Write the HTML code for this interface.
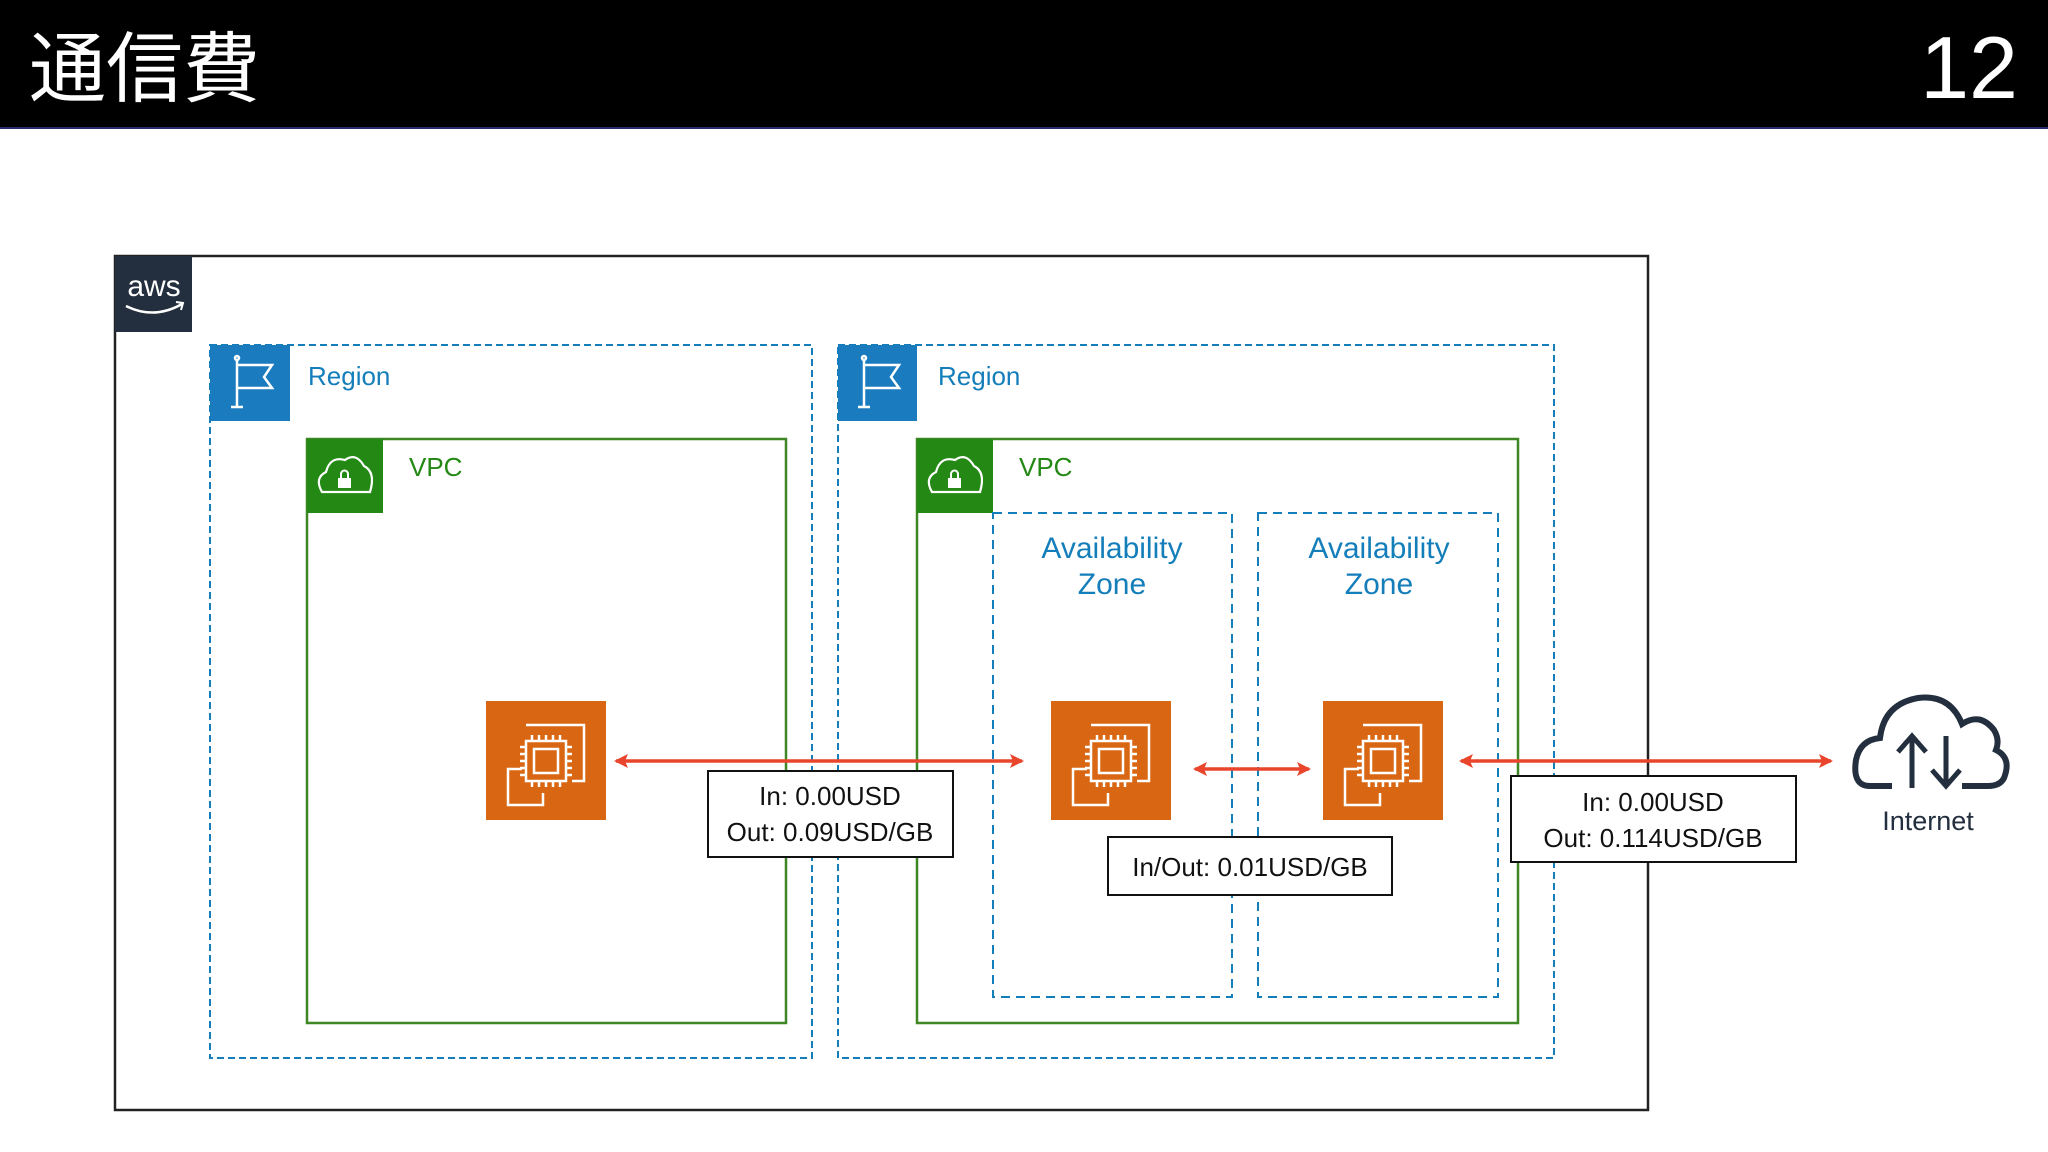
<!DOCTYPE html>
<html><head><meta charset="utf-8"><style>
html,body{margin:0;padding:0;background:#fff;}
body{width:2048px;height:1152px;overflow:hidden;position:relative;font-family:"Liberation Sans","Noto Sans CJK JP",sans-serif;}
</style></head><body>
<svg width="2048" height="1152" xmlns="http://www.w3.org/2000/svg" style="position:absolute;left:0;top:0">
<rect x="0" y="0" width="2048" height="129" fill="#000"/>
<line x1="0" y1="128" x2="2048" y2="128" stroke="#2a2a6a" stroke-width="2"/>
<text x="29" y="96" font-size="77" fill="#fff" font-family="Noto Sans CJK JP, sans-serif">通信費</text>
<text x="2018" y="98" font-size="88" fill="#fff" text-anchor="end" font-family="Liberation Sans, sans-serif">12</text>

<rect x="115" y="256" width="1533" height="854" fill="none" stroke="#222" stroke-width="2.5"/>
<rect x="115" y="256" width="77" height="76" fill="#232F3E"/>
<text x="154" y="296" font-size="30" fill="#fff" text-anchor="middle">aws</text>
<path d="M126 306 Q154 320 182 304" stroke="#fff" stroke-width="2.5" fill="none"/>
<path d="M176 302 L183 303 L181 310" stroke="#fff" stroke-width="2" fill="none"/>

<rect x="210" y="345" width="602" height="713" fill="none" stroke="#147EBA" stroke-width="2" stroke-dasharray="7,4"/>
<rect x="210" y="345" width="80" height="76" fill="#1A7BBF"/>
<g stroke="#fff" stroke-width="2.5" fill="none"><line x1="237" y1="360" x2="237" y2="407"/><line x1="231" y1="407" x2="243" y2="407"/><path d="M237 365 L272 365 L264 377 L272 388 L237 388"/><circle cx="237" cy="358" r="2"/></g>
<text x="308" y="385" font-size="26" fill="#147EBA">Region</text>
<rect x="307" y="439" width="479" height="584" fill="none" stroke="#3F8624" stroke-width="2.5"/>
<rect x="307" y="439" width="76" height="74" fill="#248814"/>
<path d="M322 492 Q314 478 326 472 Q330 456 345 460 Q356 452 364 466 Q376 472 370 492 Z" stroke="#fff" stroke-width="2.2" fill="none"/>
<rect x="338" y="478" width="13" height="10" fill="#fff"/><path d="M341 478 v-4 a3.5 3.5 0 0 1 7 0 v4" stroke="#fff" stroke-width="2" fill="none"/>
<text x="409" y="476" font-size="26" fill="#248814">VPC</text>

<rect x="838" y="345" width="716" height="713" fill="none" stroke="#147EBA" stroke-width="2" stroke-dasharray="7,4"/>
<rect x="838" y="345" width="79" height="76" fill="#1A7BBF"/>
<g stroke="#fff" stroke-width="2.5" fill="none"><line x1="864" y1="360" x2="864" y2="407"/><line x1="858" y1="407" x2="870" y2="407"/><path d="M864 365 L899 365 L891 377 L899 388 L864 388"/><circle cx="864" cy="358" r="2"/></g>
<text x="938" y="385" font-size="26" fill="#147EBA">Region</text>
<rect x="917" y="439" width="601" height="584" fill="none" stroke="#3F8624" stroke-width="2.5"/>
<rect x="917" y="439" width="76" height="74" fill="#248814"/>
<path d="M932 492 Q924 478 936 472 Q940 456 955 460 Q966 452 974 466 Q986 472 980 492 Z" stroke="#fff" stroke-width="2.2" fill="none"/>
<rect x="948" y="478" width="13" height="10" fill="#fff"/><path d="M951 478 v-4 a3.5 3.5 0 0 1 7 0 v4" stroke="#fff" stroke-width="2" fill="none"/>
<text x="1019" y="476" font-size="26" fill="#248814">VPC</text>

<rect x="993" y="513" width="239" height="484" fill="none" stroke="#147EBA" stroke-width="2" stroke-dasharray="9,6"/>
<rect x="1258" y="513" width="240" height="484" fill="none" stroke="#147EBA" stroke-width="2" stroke-dasharray="9,6"/>
<text x="1112" y="558" font-size="30" fill="#147EBA" text-anchor="middle">Availability</text>
<text x="1112" y="594" font-size="30" fill="#147EBA" text-anchor="middle">Zone</text>
<text x="1379" y="558" font-size="30" fill="#147EBA" text-anchor="middle">Availability</text>
<text x="1379" y="594" font-size="30" fill="#147EBA" text-anchor="middle">Zone</text>

<defs><g id="ec2">
<rect x="0" y="0" width="120" height="119" fill="#D86613"/>
<g stroke="#fff" stroke-width="2.5" fill="none">
<path d="M40 24 H98 V80 H86"/><path d="M36 68 H22 V104 H57 V92"/>
<rect x="40" y="40" width="40" height="40"/><rect x="48" y="48" width="24" height="24"/>
<path d="M46 40v-6M53 40v-6M60 40v-6M67 40v-6M74 40v-6M46 80v6M53 80v6M60 80v6M67 80v6M74 80v6M40 46h-6M40 53h-6M40 60h-6M40 67h-6M40 74h-6M80 46h6M80 53h6M80 60h6M80 67h6M80 74h6"/>
</g></g>
<marker id="ah" markerWidth="14" markerHeight="14" refX="12" refY="7" orient="auto-start-reverse" markerUnits="userSpaceOnUse"><path d="M0 0 L14 7 L0 14 L3 7 Z" fill="#E8452C"/></marker>
</defs>
<use href="#ec2" x="486" y="701"/>
<use href="#ec2" x="1051" y="701"/>
<use href="#ec2" x="1323" y="701"/>

<g stroke="#E8452C" stroke-width="3.5" marker-start="url(#ah)" marker-end="url(#ah)">
<line x1="616" y1="761" x2="1022" y2="761"/>
<line x1="1195" y1="769" x2="1309" y2="769"/>
<line x1="1461" y1="761" x2="1831" y2="761"/>
</g>

<g font-size="26" fill="#111" text-anchor="middle">
<rect x="708" y="771" width="245" height="86" fill="#fff" stroke="#111" stroke-width="2"/>
<text x="830" y="805">In: 0.00USD</text><text x="830" y="841">Out: 0.09USD/GB</text>
<rect x="1108" y="837" width="284" height="58" fill="#fff" stroke="#111" stroke-width="2"/>
<text x="1250" y="876">In/Out: 0.01USD/GB</text>
<rect x="1511" y="776" width="285" height="86" fill="#fff" stroke="#111" stroke-width="2"/>
<text x="1653" y="811">In: 0.00USD</text><text x="1653" y="847">Out: 0.114USD/GB</text>
</g>

<path d="M1870 786 Q1852 786 1856 760 Q1860 740 1880 738 Q1884 704 1918 698 Q1950 694 1962 724 Q1980 712 1994 730 Q2000 740 1996 750 Q2012 758 2004 778 Q2000 786 1988 786 L1962 786" stroke="#232F3E" stroke-width="6" fill="none"/>
<path d="M1870 786 L1892 786" stroke="#232F3E" stroke-width="6"/>
<g stroke="#232F3E" stroke-width="5" fill="none">
<line x1="1912" y1="736" x2="1912" y2="788"/><path d="M1898 752 L1912 736 L1926 752"/>
<line x1="1946" y1="736" x2="1946" y2="784"/><path d="M1932 770 L1946 786 L1960 770"/>
</g>
<text x="1928" y="830" font-size="27" fill="#232F3E" text-anchor="middle">Internet</text>
</svg>
</body></html>
